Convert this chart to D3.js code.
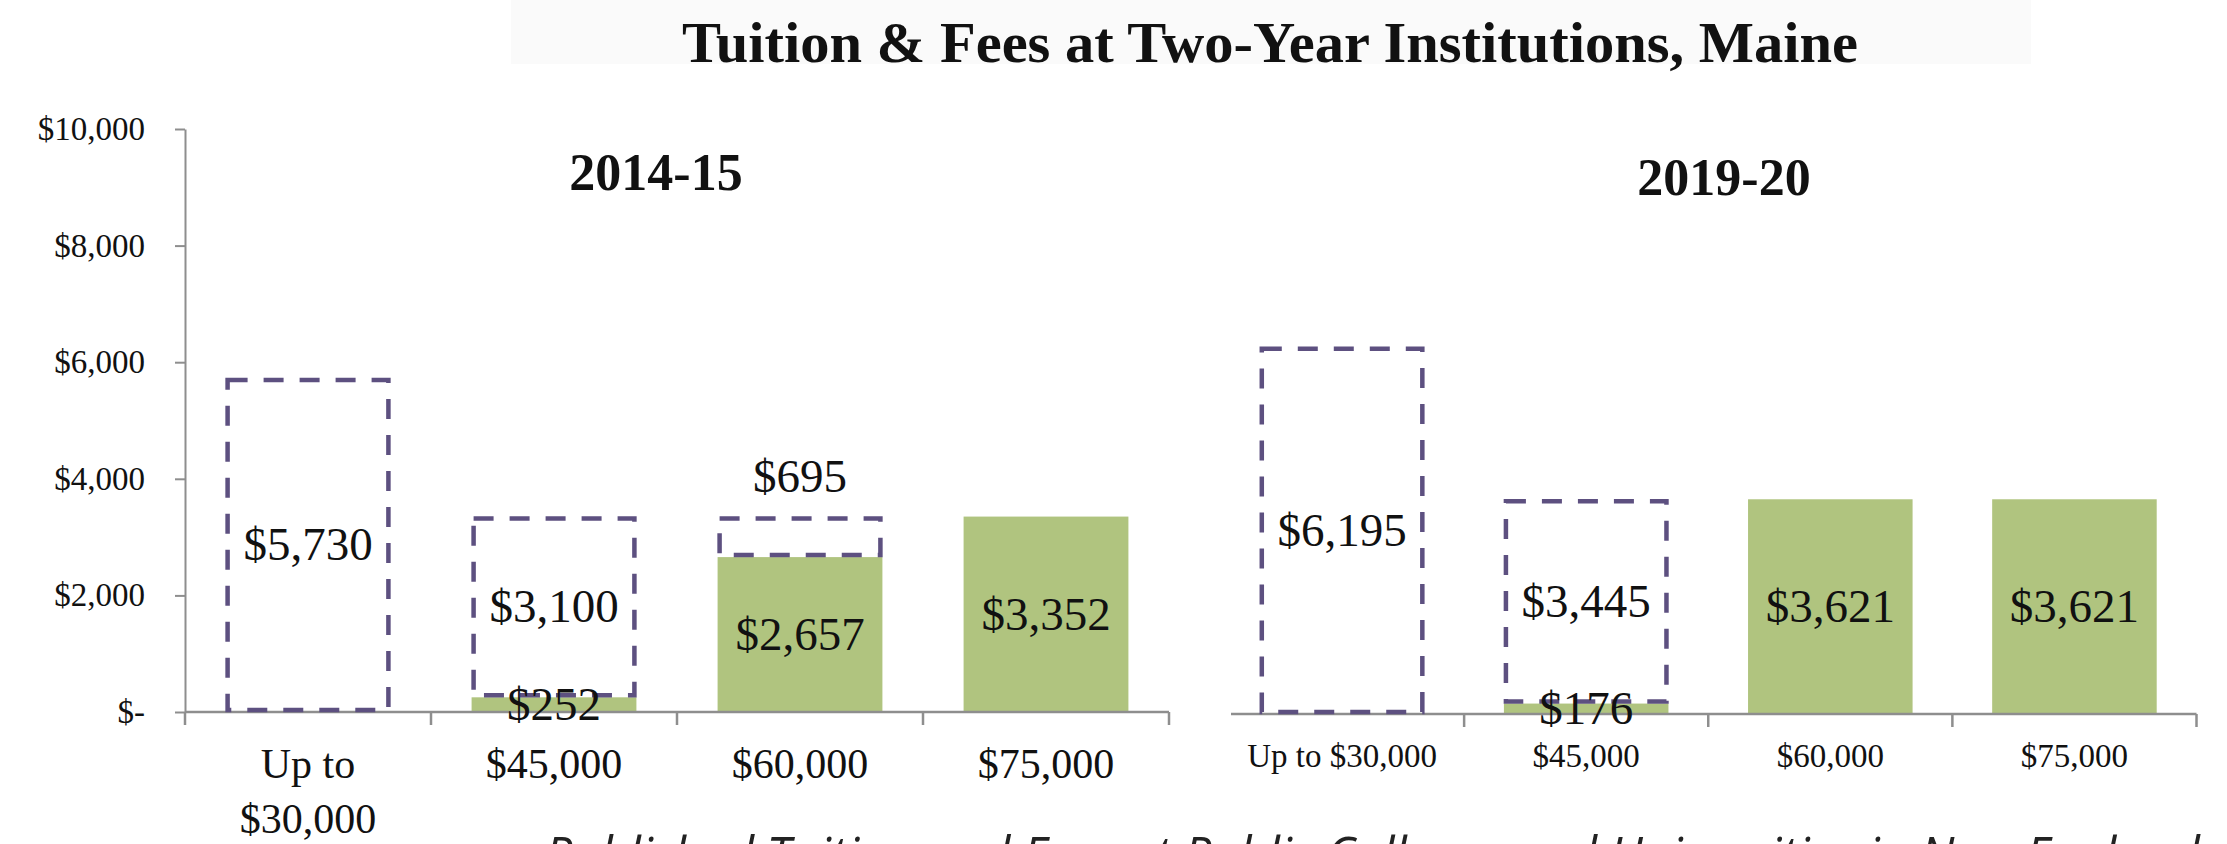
<!DOCTYPE html>
<html>
<head>
<meta charset="utf-8">
<script src="https://cdn.jsdelivr.net/npm/d3@7"></script>
<style>
  html, body { margin: 0; padding: 0; background: #ffffff; }
  svg { display: block; }
</style>
</head>
<body>
<svg id="chart" width="2227" height="844"></svg>
<script>
// ---------- DATA ----------
const title = "Tuition & Fees at Two-Year Institutions, Maine";
const footer = "Published Tuition and Fees at Public Colleges and Universities in New England";
const categories = ["Up to $30,000", "$45,000", "$60,000", "$75,000"];
const categoriesLeftLines = [["Up to", "$30,000"], ["$45,000"], ["$60,000"], ["$75,000"]];
const panelTitles = ["2014-15", "2019-20"];
// green (amount paid) and dashed (grant aid) segments
const paid2014 = [0, 252, 2657, 3352];
const grant2014 = [5730, 3100, 695, 0];
const paid2019 = [0, 176, 3621, 3621];
const grant2019 = [6195, 3445, 0, 0];
const yTicks = [0, 2000, 4000, 6000, 8000, 10000];

// ---------- STYLE ----------
const GREEN = "#b0c47f";
const PURPLE = "#5d5080";
const AXIS = "#8e8e8e";
const SERIF = "'Liberation Serif', 'Times New Roman', serif";

const svg = d3.select("#chart");
const fmt = d3.format(",");
const money = v => v === 0 ? "$-" : "$" + fmt(v);

// title background + title
svg.append("rect").attr("x", 511).attr("y", 0).attr("width", 1520).attr("height", 64)
  .attr("fill", "#fafafa");
svg.append("text").attr("x", 1270).attr("y", 62).attr("text-anchor", "middle")
  .attr("font-family", SERIF).attr("font-weight", "bold").attr("font-size", 57)
  .attr("textLength", 1176).attr("lengthAdjust", "spacingAndGlyphs")
  .attr("fill", "#111").text(title);

// panels config (layout only)
const panels = [
  { paid: paid2014, grant: grant2014, xr: [185, 1169], yr: [712, 129], pad: 0.33,
    title: panelTitles[0], tx: 656, ty: 190, yAxis: true, leftTick: true,
    labelSize: 42, labelY: 778, lineH: 55, abovePad: 40 },
  { paid: paid2019, grant: grant2019, xr: [1220, 2196.5], yr: [714, 121], pad: 0.326,
    title: panelTitles[1], tx: 1724, ty: 195, yAxis: false, leftTick: false,
    labelSize: 33, labelY: 767, lineH: 40, abovePad: 40 }
];

panels.forEach((p, pi) => {
  const x = d3.scaleBand().domain(categories).range(p.xr).paddingInner(p.pad).paddingOuter(p.pad / 2);
  const y = d3.scaleLinear().domain([0, 10000]).range(p.yr);
  const g = svg.append("g");

  // y axis
  if (p.yAxis) {
    const ya = g.append("g").attr("transform", `translate(${p.xr[0]},0)`)
      .call(d3.axisLeft(y).tickValues(yTicks).tickFormat(money).tickSize(10).tickPadding(30).tickSizeOuter(0));
    ya.select(".domain").attr("stroke", AXIS).attr("stroke-width", 2);
    ya.selectAll(".tick line").attr("stroke", AXIS).attr("stroke-width", 2);
    ya.selectAll(".tick text").attr("font-family", SERIF).attr("font-size", 33).attr("fill", "#111");
  }

  // green segments
  g.selectAll(".paid").data(categories).join("rect")
    .attr("x", c => x(c))
    .attr("width", x.bandwidth())
    .attr("y", (c, i) => y(p.paid[i]))
    .attr("height", (c, i) => y(0) - y(p.paid[i]))
    .attr("fill", GREEN);

  // x axis baseline
  const xa = g.append("g").attr("transform", `translate(0,${y(0)})`)
    .call(d3.axisBottom(x).tickSize(0).tickSizeOuter(0).tickFormat(""));
  xa.select(".domain").attr("stroke", AXIS).attr("stroke-width", 2.5)
    .attr("d", `M${p.leftTick ? p.xr[0] : p.xr[0] + 11},0H${p.xr[1]}`);
  // boundary ticks
  const step = x.step();
  const bounds = d3.range(categories.length + 1).map(k => p.xr[0] + k * step)
    .filter((b, k) => p.leftTick || k > 0);
  xa.selectAll(".bt").data(bounds).join("line")
    .attr("x1", d => d).attr("x2", d => d).attr("y1", 0).attr("y2", 13)
    .attr("stroke", AXIS).attr("stroke-width", 2.5);

  // dashed grant segments
  g.selectAll(".grant").data(categories.filter((c, i) => p.grant[i] > 0)).join("rect")
    .attr("x", c => x(c) + 2)
    .attr("width", x.bandwidth() - 4)
    .attr("y", c => { const i = categories.indexOf(c); return y(p.paid[i] + p.grant[i]) + 2; })
    .attr("height", c => { const i = categories.indexOf(c); return y(p.paid[i]) - y(p.paid[i] + p.grant[i]) - 4; })
    .attr("fill", "none").attr("stroke", PURPLE).attr("stroke-width", 4.5)
    .attr("stroke-dasharray", "20,16");

  // category labels
  const lab = g.append("g").attr("font-family", SERIF).attr("font-size", p.labelSize)
    .attr("fill", "#111").attr("text-anchor", "middle");
  categories.forEach((c, i) => {
    const lines = pi === 0 ? categoriesLeftLines[i] : [c];
    const t = lab.append("text").attr("x", x(c) + x.bandwidth() / 2).attr("y", p.labelY);
    lines.forEach((ln, k) => t.append("tspan").attr("x", x(c) + x.bandwidth() / 2)
      .attr("dy", k === 0 ? 0 : p.lineH).text(ln));
  });

  // value labels
  const vl = g.append("g").attr("font-family", SERIF).attr("font-size", 47)
    .attr("fill", "#111").attr("text-anchor", "middle");
  categories.forEach((c, i) => {
    const cx = x(c) + x.bandwidth() / 2;
    if (p.paid[i] > 0) {
      vl.append("text").attr("x", cx).attr("y", (y(0) + y(p.paid[i])) / 2).attr("dy", "0.33em")
        .text(money(p.paid[i]));
    }
    if (p.grant[i] > 0) {
      const top = y(p.paid[i] + p.grant[i]);
      const bot = y(p.paid[i]);
      const inside = (bot - top) > 60;
      vl.append("text").attr("x", cx)
        .attr("y", inside ? (top + bot) / 2 : top - p.abovePad)
        .attr("dy", "0.33em").text(money(p.grant[i]));
    }
  });

  // panel title
  svg.append("text").attr("x", p.tx).attr("y", p.ty).attr("text-anchor", "middle")
    .attr("font-family", SERIF).attr("font-weight", "bold").attr("font-size", 52)
    .attr("fill", "#111").text(p.title);
});

// footer (cut off at bottom, as in the source image)
svg.append("text").attr("x", 545).attr("y", 872)
  .attr("font-family", "'Open Sans', sans-serif").attr("font-style", "italic")
  .attr("font-size", 48.5).attr("fill", "#222").text(footer);
</script>
</body>
</html>
